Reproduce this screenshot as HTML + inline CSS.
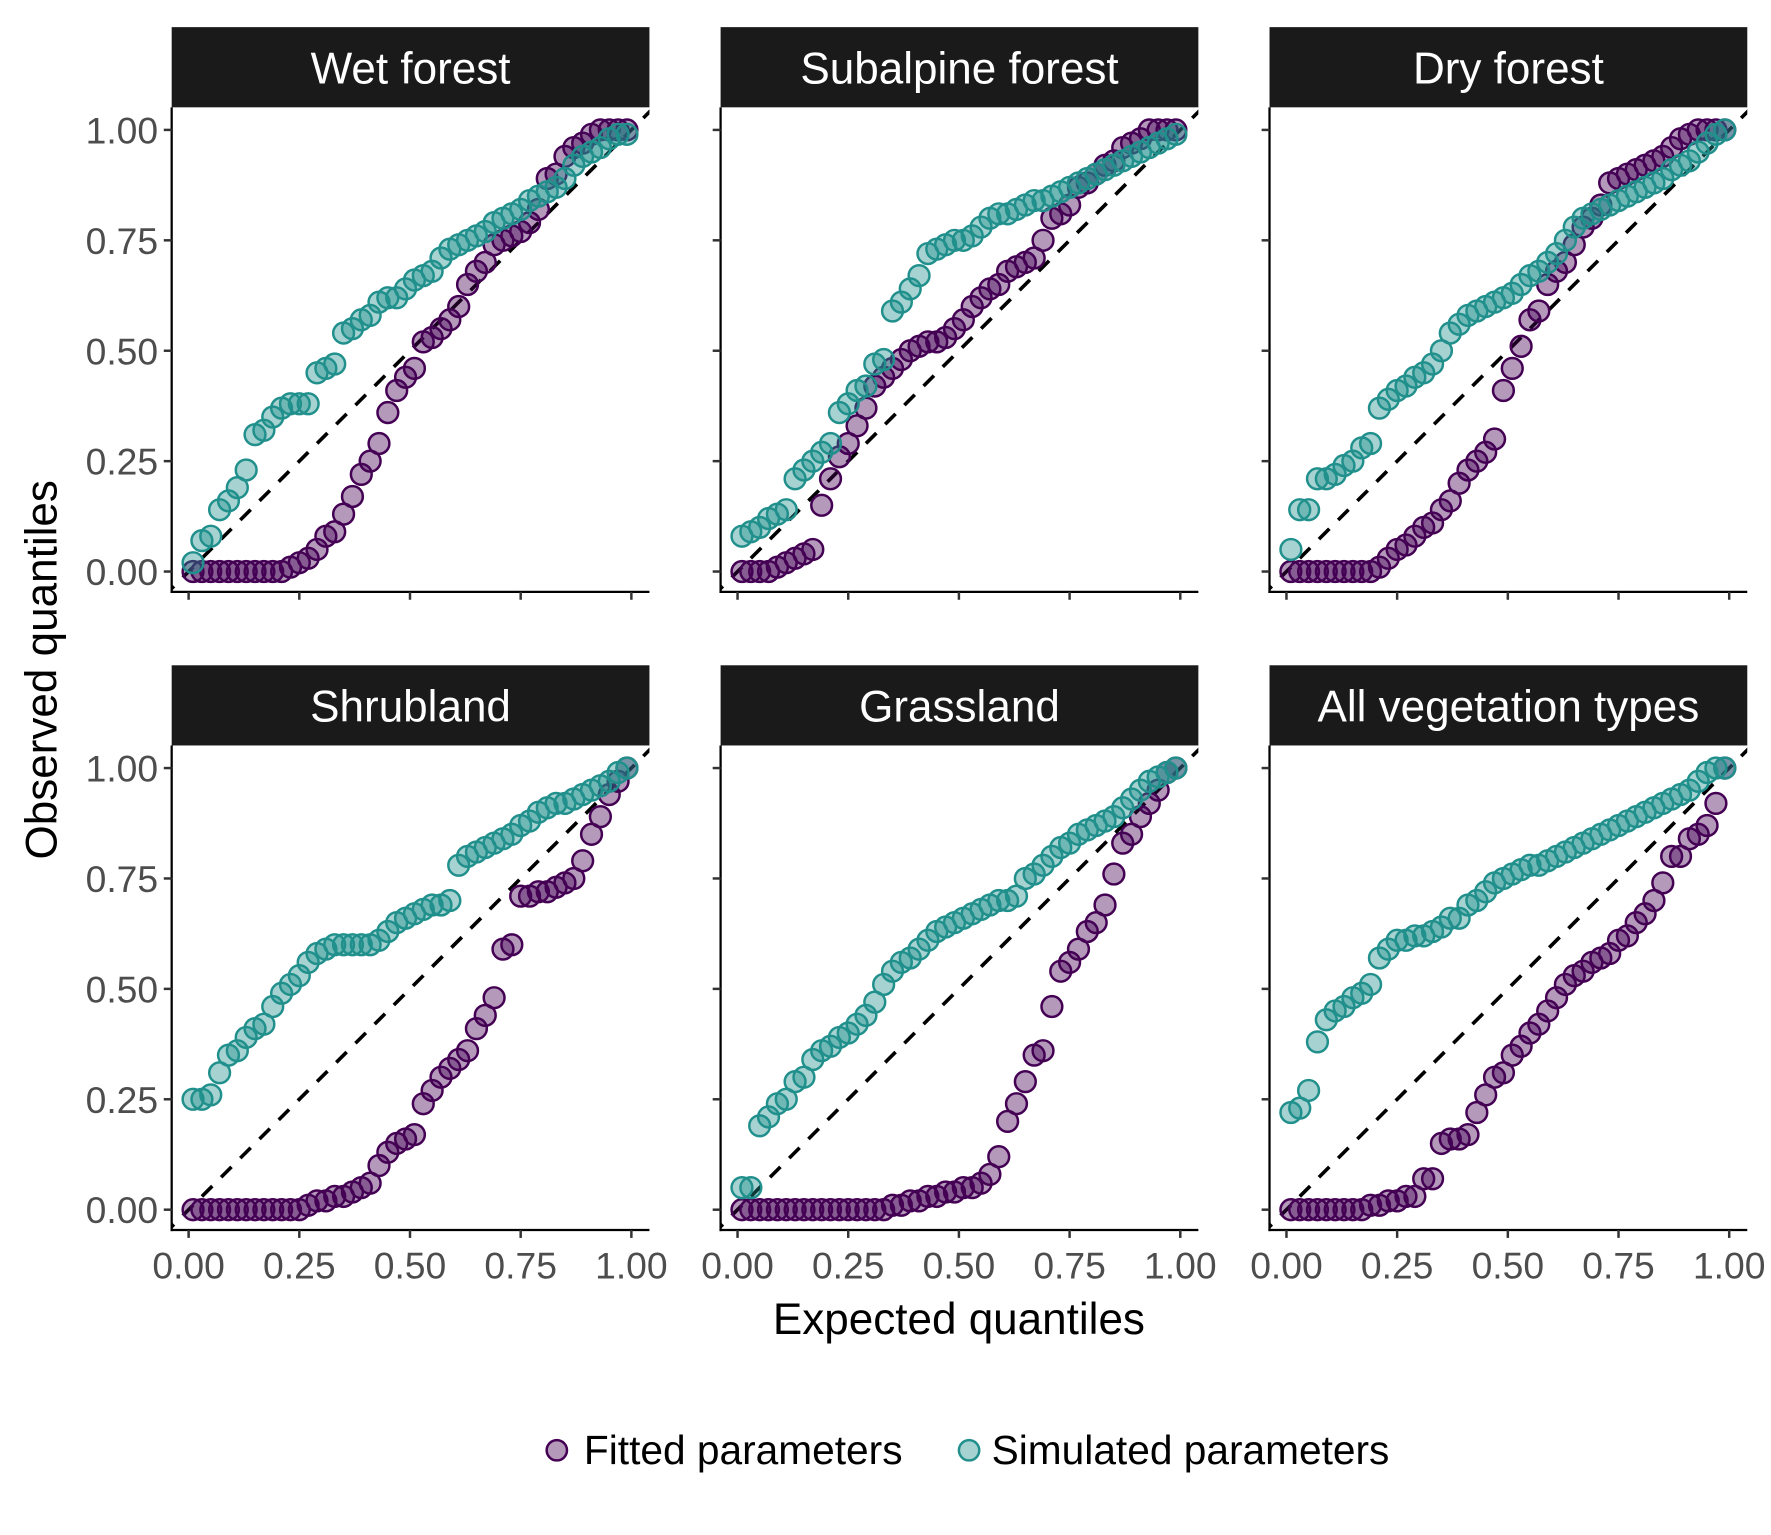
<!DOCTYPE html>
<html><head><meta charset="utf-8"><style>
html,body{margin:0;padding:0;background:#fff;}
svg{display:block;font-family:"Liberation Sans",Arial,sans-serif;}
</style></head><body>
<svg id="chart" width="1771" height="1535" viewBox="0 0 1568 1359" xmlns="http://www.w3.org/2000/svg">
<rect width="1568" height="1359" fill="#fff"/>
<g id="panels"></g>
<text x="0" y="0" transform="translate(50,593) rotate(-90)" text-anchor="middle" font-size="39" fill="#000">Observed quantiles</text>
<text x="849" y="1181" text-anchor="middle" font-size="39" fill="#000">Expected quantiles</text>
<g>
<circle cx="493" cy="1284" r="9" fill="rgba(68,1,84,0.4)" stroke="#440154" stroke-width="2.2"/>
<text x="517" y="1296" font-size="36" fill="#000">Fitted parameters</text>
<circle cx="858" cy="1284" r="9" fill="rgba(33,144,140,0.4)" stroke="#21908c" stroke-width="2.2"/>
<text x="878" y="1296" font-size="36" fill="#000">Simulated parameters</text>
</g>
</svg>
<script>
const panelNames = ["Wet forest","Subalpine forest","Dry forest","Shrubland","Grassland","All vegetation types"];
const tickValues = [0,0.25,0.5,0.75,1];
const tickLabels = ["0.00","0.25","0.50","0.75","1.00"];
const fittedWet = [0,0,0,0,0,0,0,0,0,0,0,0.01,0.02,0.03,0.05,0.08,0.09,0.13,0.17,0.22,0.25,0.29,0.36,0.41,0.44,0.46,0.52,0.53,0.55,0.57,0.60,0.65,0.68,0.70,0.74,0.75,0.76,0.77,0.79,0.82,0.89,0.90,0.94,0.96,0.97,0.99,1,1,1,1];
const simWet = [0.02,0.07,0.08,0.14,0.16,0.19,0.23,0.31,0.32,0.35,0.37,0.38,0.38,0.38,0.45,0.46,0.47,0.54,0.55,0.57,0.58,0.61,0.62,0.62,0.64,0.66,0.67,0.68,0.71,0.73,0.74,0.75,0.76,0.77,0.79,0.80,0.81,0.82,0.84,0.85,0.86,0.87,0.89,0.92,0.94,0.95,0.96,0.98,0.99,0.99];
const fittedSub = [0,0,0,0,0.01,0.02,0.03,0.04,0.05,0.15,0.21,0.26,0.29,0.33,0.37,0.42,0.44,0.46,0.48,0.50,0.51,0.52,0.52,0.53,0.55,0.57,0.60,0.62,0.64,0.65,0.68,0.69,0.70,0.71,0.75,0.80,0.81,0.83,0.87,0.88,0.90,0.92,0.93,0.96,0.97,0.98,1,1,1,1];
const simSub = [0.08,0.09,0.10,0.12,0.13,0.14,0.21,0.23,0.25,0.27,0.29,0.36,0.38,0.41,0.42,0.47,0.48,0.59,0.61,0.64,0.67,0.72,0.73,0.74,0.75,0.75,0.76,0.78,0.80,0.81,0.81,0.82,0.83,0.84,0.84,0.85,0.86,0.87,0.88,0.89,0.90,0.91,0.92,0.93,0.94,0.95,0.96,0.97,0.98,0.99];
const fittedDry = [0,0,0,0,0,0,0,0,0,0,0.01,0.03,0.05,0.06,0.08,0.10,0.11,0.14,0.16,0.20,0.23,0.25,0.27,0.30,0.41,0.46,0.51,0.57,0.59,0.65,0.68,0.70,0.74,0.78,0.80,0.83,0.88,0.89,0.90,0.91,0.92,0.93,0.94,0.96,0.98,0.99,1,1,1,1];
const simDry = [0.05,0.14,0.14,0.21,0.21,0.22,0.24,0.25,0.28,0.29,0.37,0.39,0.41,0.42,0.44,0.45,0.47,0.50,0.54,0.56,0.58,0.59,0.60,0.61,0.62,0.63,0.65,0.67,0.68,0.70,0.72,0.75,0.78,0.80,0.81,0.82,0.83,0.84,0.85,0.86,0.87,0.88,0.89,0.91,0.92,0.93,0.95,0.97,0.99,1];
const fittedShrub = [0,0,0,0,0,0,0,0,0,0,0,0,0,0.01,0.02,0.02,0.03,0.03,0.04,0.05,0.06,0.10,0.13,0.15,0.16,0.17,0.24,0.27,0.30,0.32,0.34,0.36,0.41,0.44,0.48,0.59,0.60,0.71,0.71,0.72,0.72,0.73,0.74,0.75,0.79,0.85,0.89,0.94,0.97,1];
const simShrub = [0.25,0.25,0.26,0.31,0.35,0.36,0.39,0.41,0.42,0.46,0.49,0.51,0.53,0.56,0.58,0.59,0.60,0.60,0.60,0.60,0.60,0.61,0.63,0.65,0.66,0.67,0.68,0.69,0.69,0.70,0.78,0.80,0.81,0.82,0.83,0.84,0.85,0.87,0.88,0.90,0.91,0.92,0.92,0.93,0.94,0.95,0.96,0.97,0.99,1];
const fittedGrass = [0,0,0,0,0,0,0,0,0,0,0,0,0,0,0,0,0,0.01,0.01,0.02,0.02,0.03,0.03,0.04,0.04,0.05,0.05,0.06,0.08,0.12,0.20,0.24,0.29,0.35,0.36,0.46,0.54,0.56,0.59,0.63,0.65,0.69,0.76,0.83,0.85,0.89,0.92,0.95,0.99,1];
const simGrass = [0.05,0.05,0.19,0.21,0.24,0.25,0.29,0.30,0.34,0.36,0.37,0.39,0.40,0.42,0.44,0.47,0.51,0.54,0.56,0.57,0.59,0.61,0.63,0.64,0.65,0.66,0.67,0.68,0.69,0.70,0.70,0.71,0.75,0.76,0.78,0.80,0.82,0.83,0.85,0.86,0.87,0.88,0.89,0.91,0.93,0.95,0.97,0.98,0.99,1];
const fittedAll = [0,0,0,0,0,0,0,0,0,0.01,0.01,0.02,0.02,0.03,0.03,0.07,0.07,0.15,0.16,0.16,0.17,0.22,0.26,0.30,0.31,0.35,0.37,0.40,0.42,0.45,0.48,0.51,0.53,0.54,0.56,0.57,0.58,0.61,0.62,0.65,0.67,0.70,0.74,0.80,0.80,0.84,0.85,0.87,0.92,1];
const simAll = [0.22,0.23,0.27,0.38,0.43,0.45,0.46,0.48,0.49,0.51,0.57,0.59,0.61,0.61,0.62,0.62,0.63,0.64,0.66,0.66,0.69,0.70,0.72,0.74,0.75,0.76,0.77,0.78,0.78,0.79,0.80,0.81,0.82,0.83,0.84,0.85,0.86,0.87,0.88,0.89,0.90,0.91,0.92,0.93,0.94,0.95,0.97,0.99,1,1];

const fittedSeries = [fittedWet,fittedSub,fittedDry,fittedShrub,fittedGrass,fittedAll];
const simSeries = [simWet,simSub,simDry,simShrub,simGrass,simAll];

const NS = "http://www.w3.org/2000/svg";
const root = document.getElementById('panels');
function mk(tag, attrs, parent){const e=document.createElementNS(NS,tag);for(const k in attrs)e.setAttribute(k,attrs[k]);parent.appendChild(e);return e;}
const colLefts=[152,638,1124], W=423;
const rowTops=[24,589];
function slug(s){return s.toLowerCase().replace(/[^a-z]+/g,'-');}

panelNames.forEach((name,p)=>{
  const c=p%3, r=Math.floor(p/3);
  const L=colLefts[c], T=rowTops[r], stripH=71, top=T+stripH, bottom=top+429;
  const y0=bottom-18, ySpan=391, x0=L+15, xSpan=392;
  const xs=v=>x0+v*xSpan, ys=v=>y0-v*ySpan;
  const g=mk('g',{},root);
  
  
  const strip=mk('rect',{x:L,y:T,width:W,height:stripH,fill:'#1a1a1a'},g);
  
  
  const st=mk('text',{x:L+W/2,y:T+50,'text-anchor':'middle','font-size':'39',fill:'#fff'},g);
  st.textContent=name;
  
  
  const cid='clip'+p;
  const cp=mk('clipPath',{id:cid},g);mk('rect',{x:L,y:top,width:W,height:bottom-top},cp);
  const inner=mk('g',{'clip-path':'url(#'+cid+')'},g);
  const dl=mk('line',{x1:xs(-0.1),y1:ys(-0.1),x2:xs(1.1),y2:ys(1.1),stroke:'#000','stroke-width':3.2,'stroke-dasharray':'13,11'},inner);
  
  
  const drawSeries=(arr,fill,stroke,nm)=>{
    const n=arr.length;
    arr.forEach((v,i)=>{
      const q=(i+0.5)/n;
      const ci=mk('circle',{cx:xs(q),cy:ys(v),r:9.2,fill:fill,stroke:stroke,'stroke-width':2.2},inner);
      
      
    });
  };
  drawSeries(fittedSeries[p],'rgba(68,1,84,0.4)','#440154','fitted');
  drawSeries(simSeries[p],'rgba(33,144,140,0.4)','#21908c','simulated');
  const ya=mk('line',{x1:L,y1:top,x2:L,y2:bottom+1,stroke:'#000','stroke-width':2},g);
  
  
  const xa=mk('line',{x1:L-1,y1:bottom,x2:L+W,y2:bottom,stroke:'#000','stroke-width':2},g);
  
  
  tickValues.forEach((tv,k)=>{
    mk('line',{x1:L-7,y1:ys(tv),x2:L,y2:ys(tv),stroke:'#333','stroke-width':2.2},g);
    mk('line',{x1:xs(tv),y1:bottom,x2:xs(tv),y2:bottom+7,stroke:'#333','stroke-width':2.2},g);
    if(c===0){
      const t=mk('text',{x:L-12,y:ys(tv)+12,'text-anchor':'end','font-size':'33',fill:'#4d4d4d'},g);
      t.textContent=tickLabels[k];
      
      
    }
    if(r===1){
      const t=mk('text',{x:xs(tv),y:bottom+43,'text-anchor':'middle','font-size':'33',fill:'#4d4d4d'},g);
      t.textContent=tickLabels[k];
      
      
    }
  });
});
</script>
</body></html>
